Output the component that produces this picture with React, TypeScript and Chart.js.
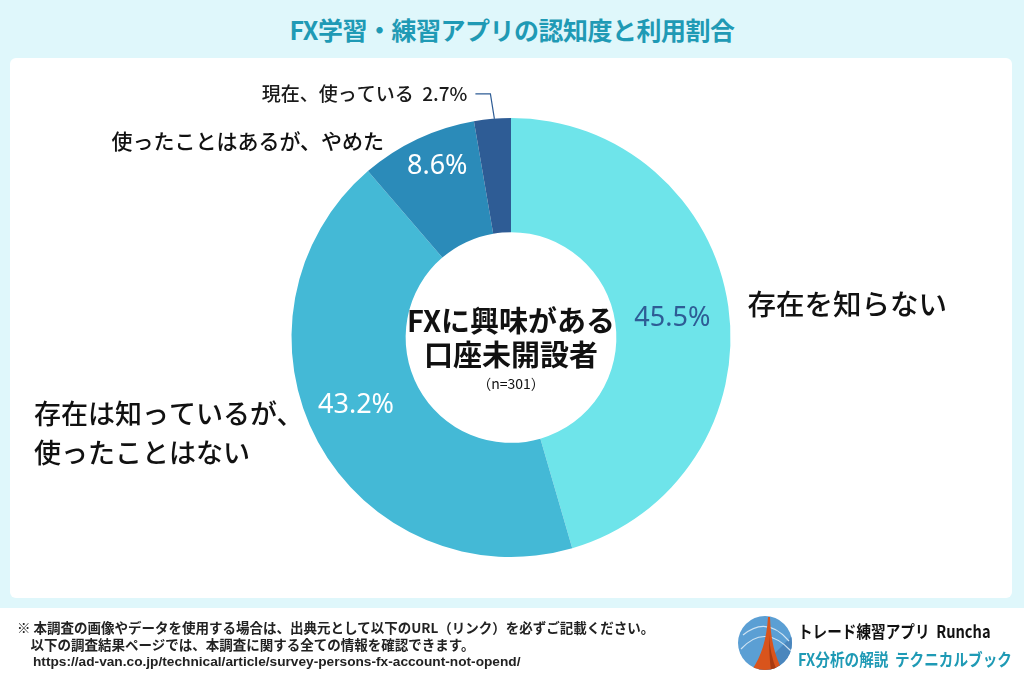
import React, { useEffect, useRef } from "react";
import { Chart, registerables } from "chart.js";

Chart.register(...registerables);

const categories = ["存在を知らない", "存在は知っているが、使ったことはない", "使ったことはあるが、やめた", "現在、使っている"];
const values = [45.5, 43.2, 8.6, 2.7];
const valueLabels = ["45.5%", "43.2%", "8.6%", "2.7%"];
const colors = ["#6ee4ea", "#44b9d6", "#2b8bb9", "#2e5c95"];
const FONT = '"Noto Sans CJK JP", "Noto Sans", sans-serif';

const labelPlugin = {
  id: "labels",
  afterDraw(chart: any) {
    const ctx = chart.ctx as CanvasRenderingContext2D;
    const meta = chart.getDatasetMeta(0);
    const radialFactor = [0.5, 0.56, 0.71];
    const angleShift = [0.025, 0.082, 0.033];
    const pctColor = ["#2e5c95", "#ffffff", "#ffffff"];
    ctx.save();
    let cx = 0, cy = 0, outer = 0;
    meta.data.forEach((arc: any, i: number) => {
      const p = arc.getProps(["x", "y", "startAngle", "endAngle", "innerRadius", "outerRadius"], true);
      cx = p.x; cy = p.y; outer = p.outerRadius;
      const mid = (p.startAngle + p.endAngle) / 2;
      if (i < 3) {
        const r = p.innerRadius + (p.outerRadius - p.innerRadius) * radialFactor[i];
        const a = mid + angleShift[i];
        ctx.font = `400 27px "Noto Sans", ${FONT}`;
        ctx.fillStyle = pctColor[i];
        ctx.textAlign = "center";
        ctx.textBaseline = "middle";
        ctx.fillText(valueLabels[i], p.x + Math.cos(a) * r, p.y + Math.sin(a) * r);
      } else {
        const sx = p.x + Math.cos(mid) * p.outerRadius;
        const sy = p.y + Math.sin(mid) * p.outerRadius;
        ctx.strokeStyle = "#2e5c95";
        ctx.lineWidth = 1.2;
        ctx.beginPath();
        ctx.moveTo(sx + 2, sy);
        ctx.lineTo(sx - 2, sy - 25);
        ctx.lineTo(sx - 17, sy - 25);
        ctx.stroke();
        ctx.font = `500 19px ${FONT}`;
        ctx.fillStyle = "#1a1a1a";
        ctx.textAlign = "right";
        ctx.textBaseline = "middle";
        ctx.fillText(`${categories[3]}  ${valueLabels[3]}`, sx - 25, sy - 25);
      }
    });
    // category labels
    ctx.fillStyle = "#111";
    ctx.textBaseline = "middle";
    ctx.textAlign = "left";
    ctx.font = `500 28.5px ${FONT}`;
    ctx.fillText(categories[0], cx + outer + 17, cy - 33);
    ctx.font = `500 27px ${FONT}`;
    ctx.fillText("存在は知っているが、", 34, cy + 76);
    ctx.fillText("使ったことはない", 34, cy + 115);
    ctx.font = `500 21px ${FONT}`;
    ctx.textAlign = "right";
    ctx.fillText(categories[2], cx - 127, cy - 196);
    // center text
    ctx.textAlign = "center";
    ctx.fillStyle = "#111";
    ctx.font = `700 29px ${FONT}`;
    ctx.fillText("FXに興味がある", cx, cy - 17);
    ctx.fillText("口座未開設者", cx, cy + 17);
    ctx.font = `400 14px ${FONT}`;
    ctx.fillText("（n=301）", cx, cy + 46);
    ctx.restore();
  },
};

function Logo() {
  return (
    <svg width="56" height="56" viewBox="0 0 56 56" style={{ position: "absolute", left: 737, top: 615 }}>
      <defs>
        <clipPath id="lc"><circle cx="28" cy="28" r="27" /></clipPath>
      </defs>
      <circle cx="28" cy="28" r="27" fill="#5b9fd4" />
      <g clipPath="url(#lc)">
        <path d="M56 20 L56 56 L20 56 Z" fill="#4a86bd" />
        <path d="M6 20 Q30 0 52 26" stroke="#cfe3f2" strokeWidth="1.2" fill="none" />
        <path d="M4 34 Q28 8 54 36" stroke="#cfe3f2" strokeWidth="1.2" fill="none" />
        <path d="M31 2 L33 2 Q34 36 46 56 L14 56 Q29 36 31 2 Z" fill="#d9541c" />
        <path d="M32 20 Q33 40 40 56 L34 56 Q32 40 32 20 Z" fill="#a83a10" />
      </g>
    </svg>
  );
}

export default function App() {
  const ref = useRef<HTMLCanvasElement>(null);
  useEffect(() => {
    if (!ref.current) return;
    const chart = new Chart(ref.current, {
      type: "doughnut",
      data: {
        labels: categories,
        datasets: [{ data: values, backgroundColor: colors, borderWidth: 0 }],
      },
      options: {
        responsive: false,
        animation: false,
        cutout: "48%",
        layout: { padding: { left: 291, right: 293, top: 118, bottom: 126 } },
        plugins: { legend: { display: false }, tooltip: { enabled: false }, title: { display: false } },
      },
      plugins: [labelPlugin],
    });
    return () => chart.destroy();
  }, []);

  const squeeze = { transform: "scaleX(0.86)", transformOrigin: "left center" } as React.CSSProperties;

  return (
    <div style={{ position: "absolute", left: 0, top: 0, width: 1024, height: 683, background: "#ffffff", overflow: "hidden", fontFamily: FONT }}>
      <div style={{ position: "absolute", left: 0, top: 0, width: 1024, height: 608, background: "#dff7fb" }} />
      <div style={{ position: "absolute", left: 10, top: 58, width: 1002, height: 540, background: "#ffffff", borderRadius: 6 }} />
      <div style={{ position: "absolute", left: 0, top: 10, width: 1024, textAlign: "center", color: "#1f9ab5", fontSize: 25, fontWeight: 700, lineHeight: "38px", letterSpacing: -0.5 }}>
        FX学習・練習アプリの認知度と利用割合
      </div>
      <canvas ref={ref} width={1024} height={683} style={{ position: "absolute", left: 0, top: 0, width: 1024, height: 683 }} />
      <div style={{ position: "absolute", left: 17, top: 619, fontSize: 13.5, fontWeight: 700, color: "#222", lineHeight: "17px", whiteSpace: "pre", fontFamily: '"Noto Sans CJK JP", sans-serif' }}>
        {"※ 本調査の画像やデータを使用する場合は、出典元として以下のURL（リンク）を必ずご記載ください。\n　以下の調査結果ページでは、本調査に関する全ての情報を確認できます。"}
      </div>
      <div style={{ position: "absolute", left: 33, top: 653, fontSize: 13.7, fontWeight: 700, color: "#222", lineHeight: "17px", fontFamily: '"Liberation Sans", Arial, sans-serif' }}>
        https://ad-van.co.jp/technical/article/survey-persons-fx-account-not-opend/
      </div>
      <Logo />
      <div style={{ position: "absolute", left: 798, top: 619, fontSize: 17, fontWeight: 700, color: "#111", lineHeight: "24px", whiteSpace: "pre", ...squeeze }}>
        {"トレード練習アプリ  Runcha"}
      </div>
      <div style={{ position: "absolute", left: 798, top: 647, fontSize: 17, fontWeight: 700, color: "#1f9ab5", lineHeight: "24px", whiteSpace: "pre", ...squeeze }}>
        {"FX分析の解説  テクニカルブック"}
      </div>
    </div>
  );
}
